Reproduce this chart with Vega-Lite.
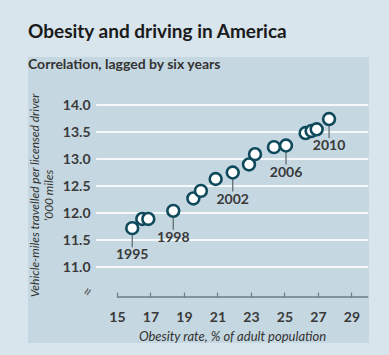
{
  "$schema": "https://vega.github.io/schema/vega-lite/v6.json",
  "width": 341,
  "height": 286,
  "autosize": "none",
  "padding": {"left": 28, "top": 57, "right": 20, "bottom": 12},
  "background": "#d8e5ec",
  "title": {
    "text": "Obesity and driving in America",
    "subtitle": "Correlation, lagged by six years",
    "anchor": "start",
    "offset": -15,
    "font": "Lato",
    "fontSize": 19,
    "fontWeight": "bold",
    "color": "#1a1a1a",
    "subtitleFont": "Lato",
    "subtitleFontSize": 14,
    "subtitleFontWeight": "bold",
    "subtitleColor": "#333333",
    "subtitlePadding": 16
  },
  "config": {
    "view": {"fill": "#c5d7e0", "stroke": null},
    "font": "Lato"
  },
  "datasets": {
    "points": [
      {"year": 1995, "obesity": 15.91, "vmt": 11.72, "label": "1995"},
      {"year": 1996, "obesity": 16.51, "vmt": 11.89, "label": null},
      {"year": 1997, "obesity": 16.87, "vmt": 11.89, "label": null},
      {"year": 1998, "obesity": 18.36, "vmt": 12.04, "label": "1998"},
      {"year": 1999, "obesity": 19.56, "vmt": 12.27, "label": null},
      {"year": 2000, "obesity": 20.01, "vmt": 12.41, "label": null},
      {"year": 2001, "obesity": 20.89, "vmt": 12.63, "label": null},
      {"year": 2002, "obesity": 21.91, "vmt": 12.75, "label": "2002"},
      {"year": 2003, "obesity": 22.88, "vmt": 12.90, "label": null},
      {"year": 2004, "obesity": 23.24, "vmt": 13.09, "label": null},
      {"year": 2005, "obesity": 24.37, "vmt": 13.22, "label": null},
      {"year": 2006, "obesity": 25.09, "vmt": 13.25, "label": "2006"},
      {"year": 2007, "obesity": 26.26, "vmt": 13.48, "label": null},
      {"year": 2008, "obesity": 26.62, "vmt": 13.52, "label": null},
      {"year": 2009, "obesity": 26.92, "vmt": 13.55, "label": null},
      {"year": 2010, "obesity": 27.66, "vmt": 13.74, "label": "2010"}
    ],
    "grid": [
      {"v": 11.0}, {"v": 11.5}, {"v": 12.0}, {"v": 12.5},
      {"v": 13.0}, {"v": 13.5}, {"v": 14.0}
    ]
  },
  "layer": [
    {
      "data": {"name": "grid"},
      "mark": {"type": "rule", "color": "#f4f8fa", "strokeWidth": 2},
      "encoding": {
        "y": {"field": "v", "type": "quantitative"},
        "x": {"datum": 13.75},
        "x2": {"datum": 30}
      }
    },
    {
      "data": {"values": [{}]},
      "mark": {"type": "rule", "color": "#6d7d86", "strokeWidth": 1.5},
      "encoding": {
        "y": {"datum": 10.444},
        "x": {"datum": 15},
        "x2": {"datum": 30}
      }
    },
    {
      "data": {"values": [{}]},
      "mark": {"type": "text", "text": "≈", "angle": 295, "fontSize": 16, "color": "#555555"},
      "encoding": {
        "y": {"datum": 10.54},
        "x": {"datum": 13.27}
      }
    },
    {
      "data": {"name": "points"},
      "transform": [{"filter": "datum.label != null"}],
      "mark": {"type": "rule", "color": "#5a666c", "strokeWidth": 1.2, "y2Offset": 19},
      "encoding": {
        "x": {"field": "obesity", "type": "quantitative"},
        "y": {"field": "vmt", "type": "quantitative"},
        "y2": {"field": "vmt"}
      }
    },
    {
      "data": {"name": "points"},
      "mark": {"type": "point", "shape": "circle", "filled": false, "fill": "#ffffff", "fillOpacity": 1, "stroke": "#0f4a5c", "strokeWidth": 2.6, "size": 140, "opacity": 1},
      "encoding": {
        "x": {
          "field": "obesity",
          "type": "quantitative",
          "scale": {"domain": [9.687, 30.045], "nice": false, "zero": false},
          "axis": {
            "values": [15, 17, 19, 21, 23, 25, 27, 29],
            "offset": -46,
            "domain": false,
            "grid": false,
            "ticks": true,
            "tickSize": -5,
            "tickColor": "#6d7d86",
            "tickWidth": 1.2,
            "labelPadding": 18,
            "labelFontSize": 14,
            "labelFontWeight": "bold",
            "labelColor": "#3a3a3a",
            "title": "Obesity rate, % of adult population",
            "titleFontStyle": "italic",
            "titleFontWeight": "normal",
            "titleFontSize": 13,
            "titleColor": "#333333",
            "titleX": 204,
            "titleY": 39,
            "titleBaseline": "middle"
          }
        },
        "y": {
          "field": "vmt",
          "type": "quantitative",
          "scale": {"domain": [9.593, 14.889], "nice": false, "zero": false},
          "axis": {
            "values": [11, 11.5, 12, 12.5, 13, 13.5, 14],
            "format": ".1f",
            "offset": -66,
            "domain": false,
            "grid": false,
            "ticks": false,
            "labelPadding": 4,
            "labelFontSize": 14,
            "labelFontWeight": "bold",
            "labelColor": "#3a3a3a",
            "title": ["Vehicle-miles travelled per licensed driver", "’000 miles"],
            "titleFontStyle": "italic",
            "titleFontWeight": "normal",
            "titleFontSize": 12,
            "titleColor": "#333333",
            "titleAngle": -90,
            "titleAlign": "center",
            "titleBaseline": "top",
            "titleLineHeight": 14,
            "titleX": -65,
            "titleY": 138
          }
        }
      }
    },
    {
      "data": {"name": "points"},
      "transform": [{"filter": "datum.label != null"}],
      "mark": {"type": "text", "dy": 27, "baseline": "middle", "fontSize": 14, "fontWeight": "bold", "color": "#3a3a3a"},
      "encoding": {
        "x": {"field": "obesity", "type": "quantitative"},
        "y": {"field": "vmt", "type": "quantitative"},
        "text": {"field": "label"}
      }
    }
  ]
}
